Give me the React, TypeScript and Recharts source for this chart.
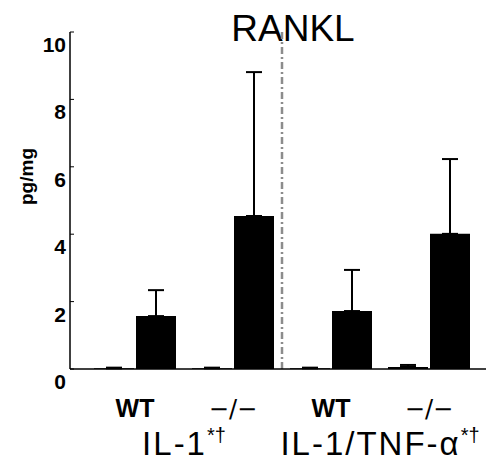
import React from 'react';
import { BarChart, Bar, XAxis, YAxis, ErrorBar, ReferenceLine } from 'recharts';

// genotype under each pair of bars, and the stimulus group they belong to
const categories = ['WT', '−/−', 'WT', '−/−'];
const groups = ['IL-1', 'IL-1', 'IL-1/TNF-α', 'IL-1/TNF-α'];

// unstimulated (near zero) and stimulated RANKL, pg/mg
const controlValues = [0.02, 0.02, 0.02, 0.06];
const controlErrors = [0.02, 0.02, 0.02, 0.06];
const stimValues = [1.57, 4.54, 1.72, 4.01];
const stimErrors = [0.77, 4.27, 1.22, 2.22];

const yTicks = [0, 2, 4, 6, 8, 10];

const data = categories.map((c, i) => ({
  key: 'c' + i,
  label: c,
  group: groups[i],
  control: controlValues[i],
  controlErr: [0, controlErrors[i]],
  stim: stimValues[i],
  stimErr: [0, stimErrors[i]],
}));

const sans = '"Liberation Sans", Arial, sans-serif';

function YTick(props: any) {
  const { x, y, payload } = props;
  return (
    <g>
      <line x1={x} x2={x + 4} y1={y} y2={y} stroke="#000" strokeWidth={1} />
      <text x={x - 4} y={y + 20} textAnchor="end" fontFamily={sans} fontWeight="bold" fontSize={21} fill="#000">
        {payload.value}
      </text>
    </g>
  );
}

function XTick(props: any) {
  const { x, y, payload } = props;
  const d = data[payload.index];
  if (!d) return null;
  if (d.label === 'WT') {
    return (
      <text x={x} y={y + 48} textAnchor="middle" fontFamily={sans} fontWeight="bold" fontSize={25} fill="#000">
        {d.label}
      </text>
    );
  }
  return (
    <text x={x} y={y + 48} textAnchor="middle" fontFamily='"DejaVu Sans", sans-serif' fontSize={24} fill="#000">
      {d.label}
    </text>
  );
}

function GroupTick(props: any) {
  const { x, y, payload } = props;
  return (
    <text x={x} y={y + 46} textAnchor="middle" fontFamily={sans} fontSize={33} letterSpacing={2} fill="#000">
      {payload.value}
      <tspan fontSize={20} dy={-13} letterSpacing={0}>*†</tspan>
    </text>
  );
}

export default function App() {
  return (
    <div style={{ position: 'relative', width: 493, height: 453 }}>
      <div
        style={{
          position: 'absolute', left: 185, top: 2, width: 200, textAlign: 'center',
          fontFamily: sans, fontSize: 37, lineHeight: '37px', color: '#000',
        }}
      >
        RANKL
      </div>
      <BarChart
        width={493}
        height={453}
        data={data}
        margin={{ top: 24, right: 15, left: 22, bottom: 12 }}
        barSize={40}
        barGap={2}
      >
        <XAxis
          dataKey="key"
          padding={{ left: 16, right: 8 }}
          axisLine={{ stroke: '#000', strokeWidth: 1.5 }}
          tickLine={false}
          tickSize={0}
          tickMargin={0}
          height={40}
          tick={<XTick />}
          interval={0}
        />
        <XAxis
          xAxisId="grp"
          dataKey="group"
          allowDuplicatedCategory={false}
          padding={{ left: 16, right: 8 }}
          axisLine={false}
          tickLine={false}
          tickSize={0}
          tickMargin={0}
          height={40}
          tick={<GroupTick />}
          interval={0}
        />
        <YAxis
          domain={[0, 10]}
          ticks={yTicks}
          width={40}
          axisLine={{ stroke: '#000', strokeWidth: 1.5 }}
          tickLine={false}
          tickSize={0}
          tickMargin={0}
          tick={<YTick />}
          label={{
            content: (p: any) => {
              const vb = p.viewBox;
              const cx = vb.x + 3;
              const cy = vb.y + vb.height / 2 - 24;
              return (
                <text x={cx} y={cy} transform={`rotate(-90 ${cx} ${cy})`} textAnchor="middle"
                  fontFamily={sans} fontWeight="bold" fontSize={19} fill="#000">
                  pg/mg
                </text>
              );
            },
          }}
        />
        <ReferenceLine
          x="c2"
          position="start"
          stroke="#8c8c8c"
          strokeWidth={2.5}
          strokeDasharray="7 3 2 3"
          ifOverflow="visible"
        />
        <Bar dataKey="control" fill="#000" isAnimationActive={false}>
          <ErrorBar dataKey="controlErr" width={8} stroke="#000" strokeWidth={2} direction="y" />
        </Bar>
        <Bar dataKey="stim" fill="#000" isAnimationActive={false}>
          <ErrorBar dataKey="stimErr" width={8} stroke="#000" strokeWidth={2} direction="y" />
        </Bar>
      </BarChart>
    </div>
  );
}
